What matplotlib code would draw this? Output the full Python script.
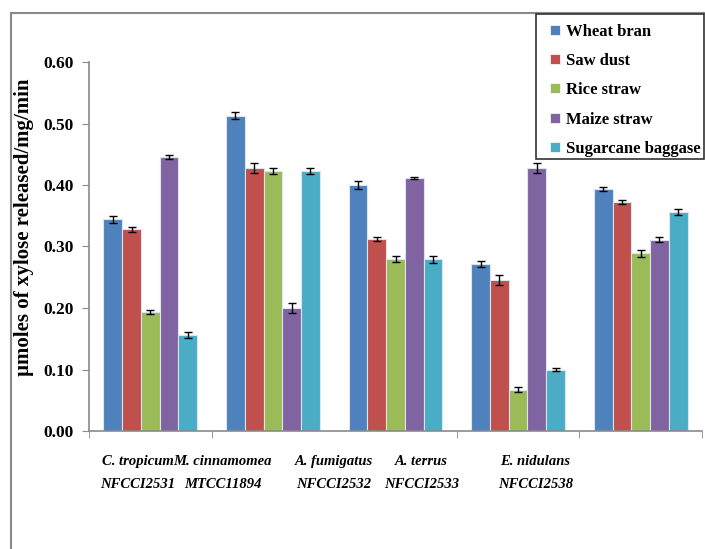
import matplotlib
matplotlib.use('Agg')
import matplotlib.pyplot as plt
import numpy as np
from matplotlib.patches import Rectangle
from matplotlib.lines import Line2D

# fungal strains (two-line labels)
strains = ['C. tropicum\nNFCCI2531', 'M. cinnamomea\nMTCC11894', 'A. fumigatus\nNFCCI2532',
           'A. terrus\nNFCCI2533', 'E. nidulans\nNFCCI2538']
# where the labels sit relative to the group centres (they are off-centre in the original)
label_pos = [-0.10, 0.59, 1.50, 2.21, 3.14]

substrates = ['Wheat bran', 'Saw dust', 'Rice straw', 'Maize straw', 'Sugarcane baggase']
colors = ['#4F81BD', '#C0504D', '#9BBB59', '#8064A2', '#4BACC6']

# xylanase activity, one list per substrate (order of strains)
wheat_bran = [0.344, 0.513, 0.400, 0.272, 0.393]
saw_dust = [0.328, 0.428, 0.312, 0.245, 0.372]
rice_straw = [0.194, 0.423, 0.279, 0.067, 0.289]
maize_straw = [0.446, 0.200, 0.411, 0.428, 0.311]
sugarcane = [0.156, 0.423, 0.279, 0.100, 0.356]

wheat_bran_err = [0.006, 0.006, 0.006, 0.005, 0.003]
saw_dust_err = [0.004, 0.008, 0.003, 0.008, 0.003]
rice_straw_err = [0.003, 0.005, 0.005, 0.004, 0.006]
maize_straw_err = [0.003, 0.008, 0.002, 0.008, 0.004]
sugarcane_err = [0.005, 0.005, 0.006, 0.002, 0.005]

values = [wheat_bran, saw_dust, rice_straw, maize_straw, sugarcane]
errors = [wheat_bran_err, saw_dust_err, rice_straw_err, maize_straw_err, sugarcane_err]

plt.rcParams['font.family'] = 'Liberation Serif'
plt.rcParams['font.weight'] = 'bold'

W, H = 705, 549
fig = plt.figure(figsize=(W / 100, H / 100), dpi=100)
ax = fig.add_axes([89 / W, 1 - 431 / H, 613 / W, 369 / H])

# outer chart frame (cut off at right/bottom like the original)
frame = Rectangle((11 / W, -0.1), 1.2, 1 - 13 / H + 0.1, transform=fig.transFigure,
                  fill=False, edgecolor='#8a8a8a', linewidth=1.5, clip_on=False)
fig.patches.append(frame)

x = np.arange(len(strains))
bar_w = 0.153
for i, (vals, errs) in enumerate(zip(values, errors)):
    offs = (i - 2) * bar_w
    ax.bar(x + offs, vals, bar_w, color=colors[i], edgecolor='#dce4ee', linewidth=0.8,
           label=substrates[i], zorder=2)
    ax.errorbar(x + offs, vals, yerr=errs, fmt='none', ecolor='black', elinewidth=1,
                capsize=2.6, capthick=1, zorder=3)

ax.set_xlim(-0.5, len(strains) - 0.5)
ax.set_ylim(0, 0.6)
ax.set_yticks(np.arange(0, 0.61, 0.1))
ax.set_yticklabels(['%.2f' % v for v in np.arange(0, 0.61, 0.1)], fontsize=12.5, fontweight='bold')
ax.tick_params(axis='y', direction='out', length=5, color='#8a8a8a', pad=6)

ax.set_xticks(label_pos)
ax.set_xticklabels(strains, fontsize=10.5, fontweight='bold', fontstyle='italic',
                   linespacing=2.0)
ax.tick_params(axis='x', which='major', length=0, pad=17.5)
ax.set_xticks(np.arange(-0.5, len(strains)), minor=True)
ax.tick_params(axis='x', which='minor', direction='out', length=5, color='#8a8a8a')

for s in ['top', 'right']:
    ax.spines[s].set_visible(False)
for s in ['left', 'bottom']:
    ax.spines[s].set_color('#8a8a8a')
    ax.spines[s].set_linewidth(1.2)

ax.set_ylabel('\u00b5moles of xylose released/mg/min', fontsize=15, fontweight='bold')
ax.yaxis.set_label_coords(-0.0897, 0.553)

# legend box drawn separately so its right edge stays inside the picture
box = Rectangle((536 / W, 1 - 159 / H), 168 / W, 145 / H, transform=fig.transFigure,
                fill=True, facecolor='white', edgecolor='#333333', linewidth=1.2, zorder=4)
fig.patches.append(box)
handles = [Line2D([], [], linestyle='none', marker='s', markersize=7, color=c,
                  markeredgecolor='white', markeredgewidth=0.5) for c in colors]
leg = fig.legend(handles, substrates, loc='upper left', bbox_to_anchor=(545 / W, 1 - 24 / H),
                 prop={'family': 'Liberation Serif', 'weight': 'bold', 'size': 12},
                 handlelength=1.2, handletextpad=0.05,
                 labelspacing=0.79, borderpad=0, borderaxespad=0, frameon=False)
leg.set_zorder(5)

plt.savefig('out.png', dpi=100)
plt.close()
